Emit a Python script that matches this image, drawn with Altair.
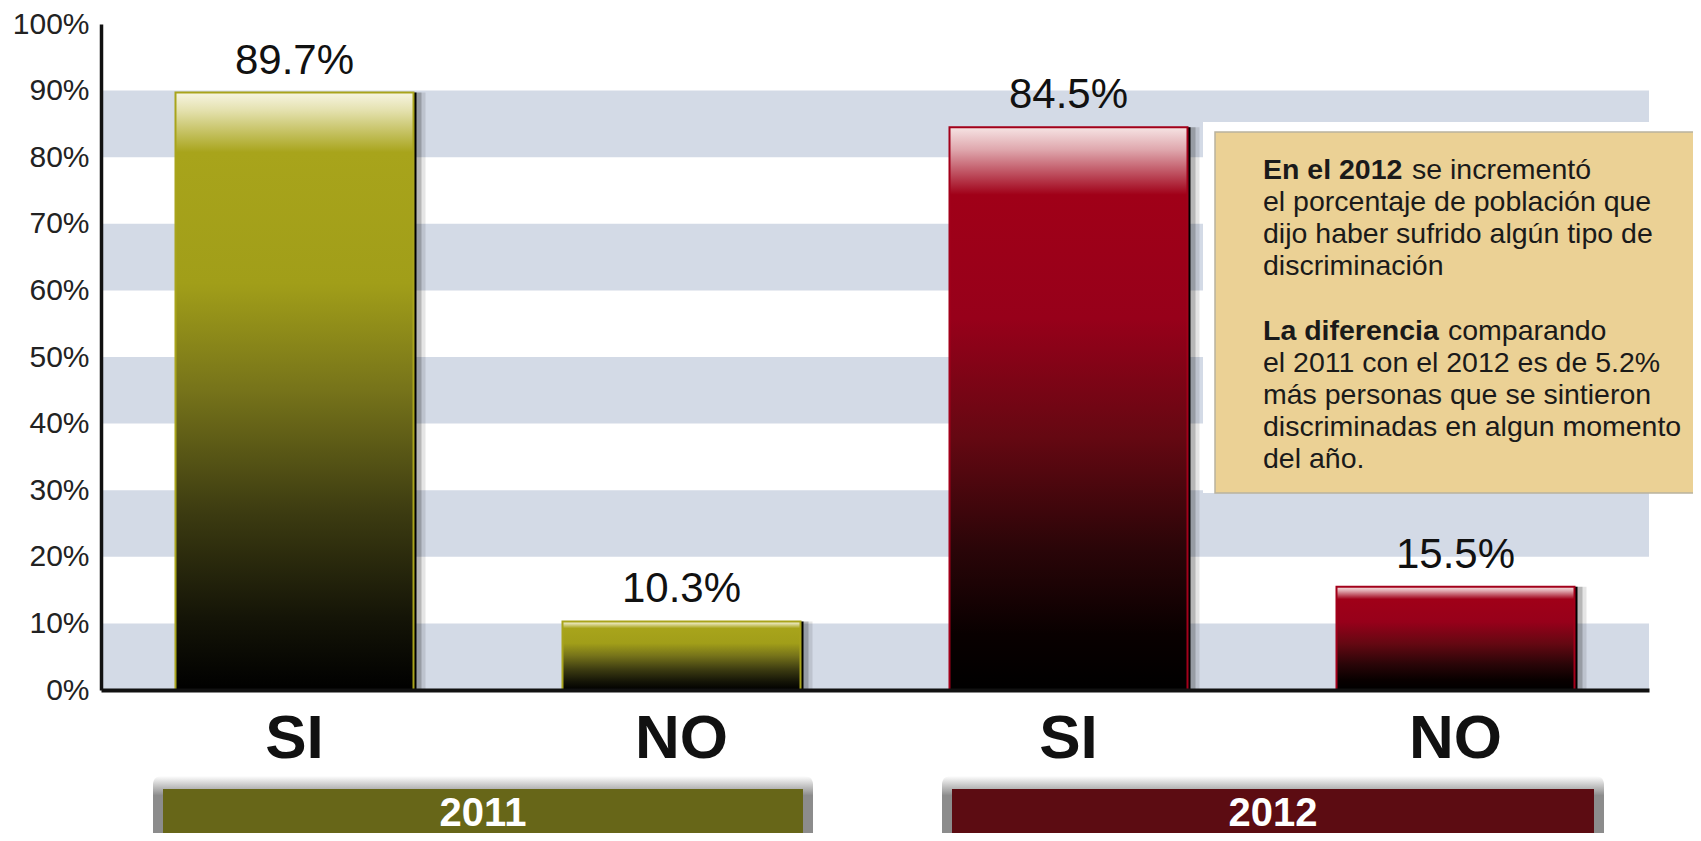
import altair as alt
import pandas as pd

# ---------------- data ----------------
years = ["2011", "2011", "2012", "2012"]
answers = ["SI", "NO", "SI", "NO"]
values = [89.7, 10.3, 84.5, 15.5]
value_labels = ["89.7%", "10.3%", "84.5%", "15.5%"]
band_starts = [0, 20, 40, 60, 80]
band_ends = [10, 30, 50, 70, 90]
y_ticks = [0, 10, 20, 30, 40, 50, 60, 70, 80, 90, 100]
year_names = ["2011", "2012"]
note_lines = [
    ("En el 2012", "se incrementó"),
    ("", "el porcentaje de población que"),
    ("", "dijo haber sufrido algún tipo de"),
    ("", "discriminación"),
    ("", ""),
    ("La diferencia", "comparando"),
    ("", "el 2011 con el 2012 es de 5.2%"),
    ("", "más personas que se sintieron"),
    ("", "discriminadas en algun momento"),
    ("", "del año."),
]

keys = [f"{y}-{a}" for y, a in zip(years, answers)]
df = pd.DataFrame({"key": keys, "year": years, "answer": answers,
                   "value": values, "label": value_labels})
bands = pd.DataFrame({"y0": band_starts, "y1": band_ends})

FONT = "Liberation Sans"
W, H = 1548, 666

x_enc = alt.X("key:N", sort=keys,
              scale=alt.Scale(paddingInner=0.385, paddingOuter=0.1925),
              axis=alt.Axis(title=None, labelExpr="split(datum.label, '-')[1]",
                            labelFontSize=62, labelFontWeight="bold", labelColor="#111",
                            labelFont=FONT, labelAngle=0, ticks=False,
                            domainColor="#111", domainWidth=4, labelPadding=18,
                            zindex=1))
y_enc = alt.Y("value:Q", scale=alt.Scale(domain=[0, 100], nice=False),
              axis=alt.Axis(title=None, values=y_ticks, labelExpr="datum.value + '%'",
                            labelFontSize=30, labelFont=FONT, labelColor="#222",
                            ticks=False, grid=False, domainColor="#111",
                            domainWidth=3.5, labelPadding=12, zindex=1))

# background bands
band_layer = alt.Chart(bands).mark_rect(color="#d3dae6").encode(
    y=alt.Y("y0:Q", scale=alt.Scale(domain=[0, 100], nice=False)),
    y2="y1:Q",
    x=alt.value(0), x2=alt.value(W),
)

# white backing of the note
note_back = alt.Chart(pd.DataFrame({"a": [0]})).mark_rect(color="white").encode(
    x=alt.value(1102), x2=alt.value(1600), y=alt.value(98), y2=alt.value(469))


def grad(stops):
    return alt.Gradient(gradient="linear", x1=0, y1=0, x2=0, y2=1,
                        stops=[alt.GradientStop(offset=o, color=c) for o, c in stops])


styles = {
    "2011": dict(stroke="#a9a41c", fill=grad([
        (0.0, "#f7f5e2"), (0.03, "#e4e1ae"), (0.10, "#a8a41b"), (0.32, "#a19e19"),
        (0.50, "#76731a"), (0.70, "#3d3c11"), (0.88, "#141407"), (1.0, "#000000")])),
    "2012": dict(stroke="#a3001a", fill=grad([
        (0.0, "#f6e4e4"), (0.04, "#dfa7ad"), (0.12, "#a00018"), (0.34, "#97001a"),
        (0.55, "#650812"), (0.75, "#2a0508"), (0.90, "#090000"), (1.0, "#000000")])),
}

bar_layers = []
for yr in year_names:
    sub = alt.Chart(df).transform_filter(alt.datum.year == yr)
    for off, op in [(12, 0.10), (8, 0.20), (3, 1.0)]:
        bar_layers.append(sub.mark_bar(color="black", opacity=op, xOffset=off).encode(
            x=x_enc, y=y_enc))
    bar_layers.append(sub.mark_bar(fill=styles[yr]["fill"], stroke=styles[yr]["stroke"],
                                   strokeWidth=2).encode(x=x_enc, y=y_enc))

value_text = alt.Chart(df).mark_text(font=FONT, fontSize=42, color="#111",
                                     baseline="alphabetic", dy=-19).encode(
    x=x_enc, y=y_enc, text="label:N")

# note box
note_box = alt.Chart(pd.DataFrame({"a": [0]})).mark_rect(
    color="#ebd195", stroke="#b9b29f", strokeWidth=1.5).encode(
    x=alt.value(1114), x2=alt.value(1600), y=alt.value(108), y2=alt.value(469))

bold_width = {"En el 2012": 140, "La diferencia": 176}
note_layers = []
for i, (b, n) in enumerate(note_lines):
    yy = 146 + i * 32.1
    if b:
        note_layers.append(alt.Chart(pd.DataFrame({"t": [b]})).mark_text(
            font=FONT, fontSize=28.5, fontWeight="bold", color="#1a1a1a",
            align="left", baseline="middle").encode(
            x=alt.value(1162), y=alt.value(yy), text="t:N"))
    if n:
        xx = 1162 + (bold_width[b] + 9 if b else 0)
        note_layers.append(alt.Chart(pd.DataFrame({"t": [n]})).mark_text(
            font=FONT, fontSize=28.5, color="#1a1a1a",
            align="left", baseline="middle").encode(
            x=alt.value(xx), y=alt.value(yy), text="t:N"))

# year boxes under the axis
year_boxes = []
year_box_x = {"2011": (62, 702), "2012": (851, 1493)}
year_colors = {"2011": "#676618", "2012": "#5c0c12"}
for yr in year_names:
    x0, x1 = year_box_x[yr]
    one = pd.DataFrame({"t": [yr]})
    year_boxes.append(alt.Chart(one).mark_rect(
        cornerRadius=8,
        fill=grad([(0.0, "#ffffff"), (0.25, "#8c8c8c"), (1.0, "#8c8c8c")])).encode(
        x=alt.value(x0 - 10), x2=alt.value(x1 + 10), y=alt.value(752), y2=alt.value(830)))
    year_boxes.append(alt.Chart(one).mark_rect(color=year_colors[yr]).encode(
        x=alt.value(x0), x2=alt.value(x1), y=alt.value(765), y2=alt.value(830)))
    year_boxes.append(alt.Chart(one).mark_text(
        font=FONT, fontSize=40, fontWeight="bold", color="white",
        baseline="middle").encode(
        x=alt.value((x0 + x1) / 2), y=alt.value(790), text="t:N"))

chart = alt.layer(band_layer, note_back, *bar_layers, value_text, note_box,
                  *note_layers, *year_boxes).properties(
    width=W, height=H,
    padding={"left": 93, "top": 16, "right": 44, "bottom": 143},
    autosize=alt.AutoSizeParams(type="none"),
    background="white",
).configure_view(stroke=None)

chart.save("out.html", embed_options={"renderer": "svg", "actions": False})
